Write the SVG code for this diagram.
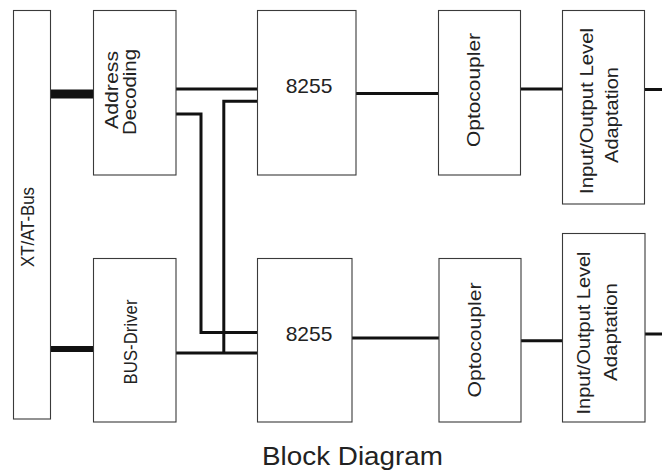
<svg xmlns="http://www.w3.org/2000/svg" width="662" height="470" viewBox="0 0 662 470">
<style>
.box{fill:#fff;stroke:#3a3a3a;stroke-width:1.1}
.lbl{font-family:"Liberation Sans",Arial,sans-serif;font-size:19px;fill:#222;text-anchor:middle}
.num{font-family:"Liberation Sans",Arial,sans-serif;font-size:21px;fill:#222;text-anchor:middle}
.wire{fill:none;stroke:#111;stroke-width:3}
</style>
<rect width="662" height="470" fill="#fff"/>
<g id="connectors">
<rect x="51" y="89.5" width="42" height="9" fill="#111"/>
<rect x="51" y="346" width="42" height="6" fill="#111"/>
<path class="wire" d="M176 89H257"/>
<path class="wire" d="M176 114H201V332.5H257"/>
<path class="wire" d="M257 101.3H223.8V353"/>
<path class="wire" d="M176 353H257"/>
<path class="wire" d="M356 93.5H438"/>
<path class="wire" d="M521 89H562"/>
<path class="wire" d="M644 89.5H662"/>
<path class="wire" d="M352 338H439"/>
<path class="wire" d="M521 340.8H562"/>
<path class="wire" d="M645 334H662"/>
</g>
<g id="bus">
<rect class="box" x="13.5" y="10.5" width="37" height="408.5"/>
<text class="lbl" transform="translate(34,227) rotate(-90)" textLength="80" lengthAdjust="spacingAndGlyphs">XT/AT-Bus</text>
</g>
<g id="address-decoding">
<rect class="box" x="93.5" y="10.5" width="82.5" height="164.5"/>
<text class="lbl" transform="translate(118,90) rotate(-90)" textLength="78" lengthAdjust="spacingAndGlyphs">Address</text>
<text class="lbl" transform="translate(136,92) rotate(-90)" textLength="86" lengthAdjust="spacingAndGlyphs">Decoding</text>
</g>
<g id="bus-driver">
<rect class="box" x="93.5" y="258.5" width="82.5" height="163.5"/>
<text class="lbl" transform="translate(137,342) rotate(-90)" textLength="85" lengthAdjust="spacingAndGlyphs">BUS-Driver</text>
</g>
<g id="ppi-top">
<rect class="box" x="257.5" y="10.5" width="98.5" height="164.5"/>
<text class="num" x="309" y="93">8255</text>
</g>
<g id="ppi-bottom">
<rect class="box" x="257.5" y="258.5" width="94.5" height="163.5"/>
<text class="num" x="309" y="341">8255</text>
</g>
<g id="opto-top">
<rect class="box" x="438.5" y="10.5" width="82" height="164.5"/>
<text class="lbl" transform="translate(480,90) rotate(-90)" textLength="114" lengthAdjust="spacingAndGlyphs">Optocoupler</text>
</g>
<g id="opto-bottom">
<rect class="box" x="439" y="258.5" width="82" height="163.5"/>
<text class="lbl" transform="translate(480.5,340) rotate(-90)" textLength="115" lengthAdjust="spacingAndGlyphs">Optocoupler</text>
</g>
<g id="io-top">
<rect class="box" x="562.5" y="10.5" width="82" height="193.5"/>
<text class="lbl" transform="translate(593,111) rotate(-90)" textLength="166" lengthAdjust="spacingAndGlyphs">Input/Output Level</text>
<text class="lbl" transform="translate(618,115) rotate(-90)" textLength="96" lengthAdjust="spacingAndGlyphs">Adaptation</text>
</g>
<g id="io-bottom">
<rect class="box" x="562.5" y="233.5" width="82.5" height="188.5"/>
<text class="lbl" transform="translate(590,333) rotate(-90)" textLength="163" lengthAdjust="spacingAndGlyphs">Input/Output Level</text>
<text class="lbl" transform="translate(617,332) rotate(-90)" textLength="98" lengthAdjust="spacingAndGlyphs">Adaptation</text>
</g>
<g id="caption">
<text class="lbl" x="352.5" y="465" style="font-size:26px" textLength="181" lengthAdjust="spacingAndGlyphs">Block Diagram</text>
</g>
</svg>
